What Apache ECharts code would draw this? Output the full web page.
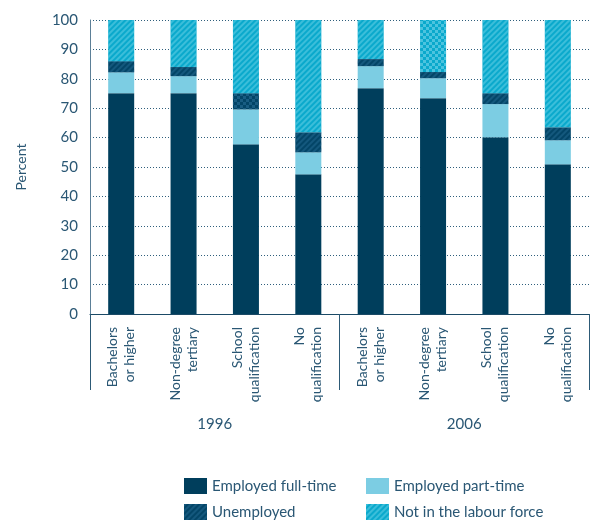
<!DOCTYPE html>
<html>
<head>
<meta charset="utf-8">
<script src="https://cdn.jsdelivr.net/npm/echarts@6/dist/echarts.min.js"></script>
<style>html,body{margin:0;padding:0;background:#fff}#c{width:590px;height:521px}</style>
</head>
<body>
<div id="c"></div>
<script>
var categories = ['Bachelors\nor higher','Non-degree\ntertiary','School\nqualification','No\nqualification',
                  'Bachelors\nor higher','Non-degree\ntertiary','School\nqualification','No\nqualification'];
var years = ['1996','2006'];
var yTicks = [0,10,20,30,40,50,60,70,80,90,100];
var fullTime   = [75.1, 75.1, 57.7, 47.5, 76.8, 73.4, 60.1, 50.9];
var partTime   = [7.1, 5.8, 11.9, 7.5, 7.5, 6.8, 11.3, 8.2];
var unemployed = [3.8, 3.1, 5.5, 6.8, 2.4, 2.1, 3.7, 4.4];
var notInLF    = [14.0, 16.0, 24.9, 38.2, 13.3, 17.7, 24.9, 36.5];
var seriesNames = ['Employed full-time','Employed part-time','Unemployed','Not in the labour force'];

var FONT = 'Lato';
var TXT = '#2a5774';
var stripeDecal = function(col){ return {symbol:'rect', symbolSize:1, dashArrayX:[1,0], dashArrayY:[2,2], rotation:-Math.PI/4, color:col}; };
var checkDecal = function(col){ return {symbol:'rect', symbolSize:1, dashArrayX:[[3,3],[0,3,3,0]], dashArrayY:[3,0], rotation:0, color:col}; };

var unempStripe = stripeDecal('rgba(40,110,150,0.45)');
var nilfStripe = stripeDecal('rgba(120,215,235,0.45)');

function withDecal(arr, idx, decal){
  return arr.map(function(v,i){ return i===idx ? {value:v, itemStyle:{decal:decal}} : v; });
}
function legendItem(name, left, top){
  return {data:[name], left:left, top:top, padding:0, itemWidth:23, itemHeight:16, icon:'rect',
    textStyle:{fontFamily:FONT, fontSize:15, color:TXT}};
}

var chart = echarts.init(document.getElementById('c'), null, {renderer:'canvas'});
chart.setOption({
  animation:false,
  textStyle:{fontFamily:FONT},
  grid:{left:90, right:1, top:20, height:294},
  legend:[
    legendItem(seriesNames[0], 184, 478),
    legendItem(seriesNames[2], 184, 504),
    legendItem(seriesNames[1], 366, 478),
    legendItem(seriesNames[3], 366, 504)
  ],
  xAxis:[
    {type:'category', data:categories, position:'bottom',
     axisLine:{lineStyle:{color:'#1b4a66', width:1}},
     axisTick:{length:8, lineStyle:{color:'#1b4a66'}},
     axisLabel:{rotate:90, interval:0, margin:13, fontSize:14, lineHeight:17, color:TXT, fontFamily:FONT}},
    {type:'category', data:years, position:'bottom',
     axisLine:{show:false},
     axisTick:{show:true, length:76, lineStyle:{color:'#2d5a76'}},
     axisLabel:{margin:103, fontSize:15, color:TXT, fontFamily:FONT}}
  ],
  yAxis:{type:'value', min:0, max:100, interval:10,
    name:'Percent', nameLocation:'middle', nameGap:62, nameTextStyle:{fontSize:14, color:TXT, fontFamily:FONT},
    axisLine:{show:true, lineStyle:{color:'#5b7f97'}},
    axisTick:{show:false},
    axisLabel:{margin:12, fontSize:15, color:TXT, fontFamily:FONT,
      formatter:function(v){ return yTicks.indexOf(v)>=0 ? String(v) : ''; }},
    splitLine:{show:true, lineStyle:{color:'#2f5f7c', type:[1,2], width:1}}
  },
  series:[
    {name:seriesNames[0], type:'bar', stack:'s', xAxisIndex:0, barWidth:26, data:fullTime,
     itemStyle:{color:'#003e5c'}},
    {name:seriesNames[1], type:'bar', stack:'s', xAxisIndex:0, barWidth:26, data:partTime,
     itemStyle:{color:'#7ccde3'}},
    {name:seriesNames[2], type:'bar', stack:'s', xAxisIndex:0, barWidth:26,
     data:withDecal(unemployed, 2, checkDecal('rgba(40,110,150,0.6)')),
     itemStyle:{color:'#034567', decal:unempStripe}},
    {name:seriesNames[3], type:'bar', stack:'s', xAxisIndex:0, barWidth:26,
     data:withDecal(notInLF, 5, checkDecal('rgba(120,215,235,0.6)')),
     itemStyle:{color:'#0aa9cc', decal:nilfStripe}}
  ]
});
</script>
</body>
</html>
